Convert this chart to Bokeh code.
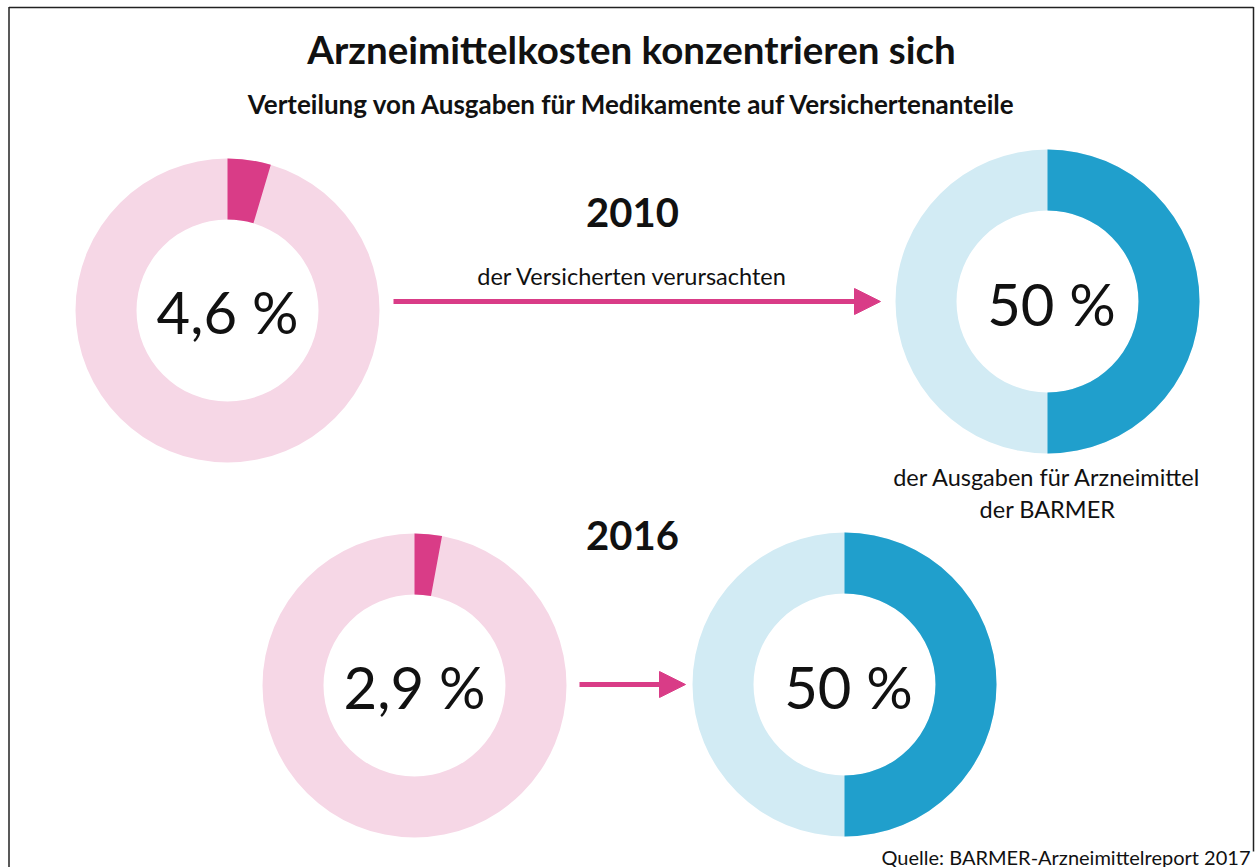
import math
from bokeh.plotting import figure
from bokeh.models import Range1d, Arrow, NormalHead
from bokeh.core.properties import value
from bokeh.embed import file_html
from bokeh.resources import INLINE

# ---------------- data ----------------
years = ["2010", "2016"]
insured_share = [4.6, 2.9]          # % of insured persons
cost_share = [50, 50]               # % of drug expenditure
insured_labels = ["4,6 %", "2,9 %"]
cost_labels = ["50 %", "50 %"]

title = "Arzneimittelkosten konzentrieren sich"
subtitle = "Verteilung von Ausgaben für Medikamente auf Versichertenanteile"
arrow_text = "der Versicherten verursachten"
cost_text = ["der Ausgaben für Arzneimittel", "der BARMER"]
source = "Quelle: BARMER-Arzneimittelreport 2017"

# ---------------- layout ----------------
W, H = 1255, 867
FONT = "Lato"
PINK, PINK_L = "#D93C87", "#F6D7E6"
BLUE, BLUE_L = "#209FCC", "#D2EBF4"
INK = "#111111"

def sx(X):
    return X

def sy(Y):
    return H - Y

p = figure(width=W, height=H, output_backend="svg", toolbar_location=None,
           x_range=Range1d(0, W), y_range=Range1d(0, H), min_border=0)
p.axis.visible = False
p.grid.visible = False
p.outline_line_color = None
p.background_fill_color = "white"

# frame
p.multi_line(xs=[[sx(8.5), sx(8.5)], [sx(8.5), sx(1253)], [sx(1253), sx(1253)]],
             ys=[[sy(867), sy(6.5)], [sy(7), sy(7)], [sy(6.5), sy(851)]],
             line_color="#222222", line_width=1.5)

R_OUT, R_IN = 152, 91
pink_centers = [(227, 310), (414, 685)]
blue_centers = [(1047, 301), (844, 684)]

# pink donuts (insured share)
for (cx, cy), share in zip(pink_centers, insured_share):
    p.annulus(x=[sx(cx)], y=[sy(cy)], inner_radius=R_IN, outer_radius=R_OUT,
              fill_color=PINK_L, line_color=None)
    p.annular_wedge(x=[sx(cx)], y=[sy(cy)], inner_radius=R_IN, outer_radius=R_OUT,
                    start_angle=math.pi / 2,
                    end_angle=math.pi / 2 - share / 100 * 2 * math.pi,
                    direction="clock", fill_color=PINK, line_color=None)

# blue donuts (cost share)
for (cx, cy), share in zip(blue_centers, cost_share):
    p.annulus(x=[sx(cx)], y=[sy(cy)], inner_radius=R_IN, outer_radius=R_OUT,
              fill_color=BLUE_L, line_color=None)
    p.annular_wedge(x=[sx(cx)], y=[sy(cy)], inner_radius=R_IN, outer_radius=R_OUT,
                    start_angle=math.pi / 2,
                    end_angle=math.pi / 2 - share / 100 * 2 * math.pi,
                    direction="clock", fill_color=BLUE, line_color=None)

# big numbers
p.text(x=[sx(c[0]) for c in pink_centers], y=[sy(c[1] + 1) for c in pink_centers],
       text=insured_labels, text_font=value(FONT), text_font_size="58px",
       text_align="center", text_baseline="middle", text_color=INK)
p.text(x=[sx(c[0] + 4) for c in blue_centers], y=[sy(c[1] + 2) for c in blue_centers],
       text=cost_labels, text_font=value(FONT), text_font_size="58px",
       text_align="center", text_baseline="middle", text_color=INK)

# arrows
for (x0, x1, y) in [(393, 880, 301), (579, 685, 684)]:
    p.add_layout(Arrow(end=NormalHead(size=26, fill_color=PINK, line_color=PINK, line_width=1),
                       x_start=sx(x0), y_start=sy(y), x_end=sx(x1), y_end=sy(y),
                       line_color=PINK, line_width=5))

# titles
p.text(x=[sx(631)], y=[sy(48)], text=[title], text_font=value(FONT),
       text_font_style="bold", text_font_size="38.5px", text_align="center",
       text_baseline="middle", text_color=INK)
p.text(x=[sx(632)], y=[sy(103)], text=[subtitle], text_font=value(FONT),
       text_font_style="bold", text_font_size="26px", text_align="center",
       text_baseline="middle", text_color=INK)

# years
year_pos = [(632, 212), (632, 535)]
p.text(x=[sx(q[0]) for q in year_pos], y=[sy(q[1]) for q in year_pos], text=years,
       text_font=value(FONT), text_font_style="bold", text_font_size="40px",
       text_align="center", text_baseline="middle", text_color=INK)

# annotations
p.text(x=[sx(632)], y=[sy(275)], text=[arrow_text], text_font=value(FONT),
       text_font_size="23.5px", text_align="center", text_baseline="middle",
       text_color=INK)
p.text(x=[sx(1047), sx(1047)], y=[sy(476), sy(508)], text=cost_text,
       text_font=value(FONT), text_font_size="23.5px", text_align="center",
       text_baseline="middle", text_color=INK)

# source
p.text(x=[sx(1250)], y=[sy(856)], text=[source], text_font=value(FONT),
       text_font_size="20px", text_align="right", text_baseline="alphabetic",
       text_color=INK)

open("out.html", "w").write(file_html(p, INLINE))
